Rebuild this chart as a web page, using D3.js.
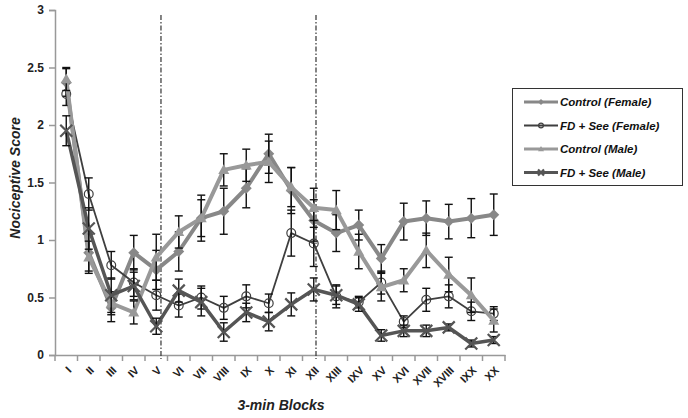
<!DOCTYPE html>
<html><head><meta charset="utf-8">
<script src="https://cdn.jsdelivr.net/npm/d3@7/dist/d3.min.js"></script>
<style>body{margin:0;background:#fff}svg{display:block}</style>
</head><body><svg id="c" width="688" height="418"></svg>
<script>
const categories = ["I","II","III","IV","V","VI","VII","VIII","IX","X","XI","XII","XIII","IXV","XV","XVI","XVII","XVIII","IXX","XX"];
const controlFemale = [2.37,0.89,0.41,0.89,0.74,0.90,1.19,1.25,1.45,1.75,1.43,1.17,1.06,1.13,0.84,1.16,1.19,1.16,1.19,1.22];
const controlFemaleErr = [0.12,0.16,0.12,0.15,0.17,0.17,0.2,0.2,0.17,0.17,0.2,0.18,0.16,0.13,0.12,0.16,0.15,0.15,0.17,0.18];
const fdFemale = [2.27,1.40,0.78,0.63,0.52,0.43,0.50,0.41,0.51,0.45,1.06,0.97,0.51,0.46,0.63,0.29,0.48,0.51,0.38,0.36];
const fdFemaleErr = [0.1,0.14,0.12,0.12,0.13,0.1,0.1,0.1,0.1,0.08,0.2,0.2,0.1,0.05,0.1,0.05,0.1,0.1,0.08,0.06];
const controlMale = [2.40,0.85,0.45,0.37,0.85,1.07,1.19,1.61,1.65,1.68,1.46,1.28,1.26,0.90,0.59,0.65,0.91,0.70,0.52,0.30];
const controlMaleErr = [0.1,0.14,0.1,0.1,0.2,0.14,0.16,0.14,0.14,0.18,0.17,0.17,0.17,0.15,0.12,0.1,0.15,0.15,0.15,0.1];
const fdMale = [1.95,1.10,0.52,0.60,0.25,0.56,0.46,0.20,0.37,0.29,0.44,0.57,0.52,0.44,0.17,0.21,0.21,0.24,0.10,0.13];
const fdMaleErr = [0.13,0.18,0.15,0.12,0.07,0.1,0.12,0.08,0.08,0.08,0.1,0.1,0.08,0.06,0.05,0.05,0.05,0.03,0.03,0.03];
const yTicks = [0,0.5,1,1.5,2,2.5,3];
const seriesNames = ["Control (Female)","FD + See (Female)","Control (Male)","FD + See (Male)"];
const dividerPositions = [4.71, 11.6]; // in band units from the left edge

const svg = d3.select("#c");
const m = {l:55, r:505, t:10, b:355};
const x = d3.scaleBand().domain(categories).range([m.l, m.r]);
const y = d3.scaleLinear().domain([0,3]).range([m.b, m.t]);
const font = "'Liberation Sans', Arial, sans-serif";

// axes
const yAx = svg.append("g").attr("transform",`translate(${m.l},0)`)
  .call(d3.axisLeft(y).tickValues(yTicks).tickFormat(d=>d).tickSize(6).tickPadding(5));
yAx.select(".domain").attr("stroke","#999").attr("stroke-width",1.5);
yAx.selectAll(".tick line").attr("stroke","#999").attr("stroke-width",1.5);
yAx.selectAll("text").attr("font-family",font).attr("font-weight","bold").attr("font-size",12).attr("fill","#222");

const xAx = svg.append("g").attr("transform",`translate(0,${m.b})`)
  .call(d3.axisBottom(x).tickSize(0).tickPadding(0));
xAx.select(".domain").attr("stroke","#999").attr("stroke-width",1.5);
xAx.selectAll(".tick text").attr("font-family",font).attr("font-weight","bold").attr("font-size",11).attr("fill","#222")
  .attr("text-anchor","end").attr("dy",0).attr("transform","translate(6,16) rotate(-45)");
// band boundary ticks
const bounds = d3.range(categories.length+1).map(i=>m.l + i*x.bandwidth());
svg.append("g").selectAll("line").data(bounds).join("line")
  .attr("x1",d=>d).attr("x2",d=>d).attr("y1",m.b).attr("y2",m.b+6)
  .attr("stroke","#999").attr("stroke-width",1.5);

// dividers
svg.append("g").selectAll("line").data(dividerPositions).join("line")
  .attr("x1",d=>m.l+d*x.bandwidth()).attr("x2",d=>m.l+d*x.bandwidth())
  .attr("y1",15).attr("y2",m.b+4)
  .attr("stroke","#333").attr("stroke-width",1.2).attr("stroke-dasharray","5,2,1.5,2");

const cx = c => x(c) + x.bandwidth()/2;
const series = [
  {name:seriesNames[0], v:controlFemale, e:controlFemaleErr, color:"#888", w:4, mark:"diamond"},
  {name:seriesNames[1], v:fdFemale, e:fdFemaleErr, color:"#3f3f3f", w:1.8, mark:"circle"},
  {name:seriesNames[2], v:controlMale, e:controlMaleErr, color:"#999", w:4, mark:"triangle"},
  {name:seriesNames[3], v:fdMale, e:fdMaleErr, color:"#555", w:3.5, mark:"x"}
];

function drawMarker(g, type, color, px, py, s){
  if(type==="diamond"){
    g.append("path").attr("d",`M${px},${py-s}L${px+s},${py}L${px},${py+s}L${px-s},${py}Z`).attr("fill",color);
  } else if(type==="circle"){
    g.append("circle").attr("cx",px).attr("cy",py).attr("r",s*0.8).attr("fill","none").attr("stroke",color).attr("stroke-width",1.2);
  } else if(type==="triangle"){
    g.append("path").attr("d",`M${px},${py-s}L${px+s},${py+s*0.75}L${px-s},${py+s*0.75}Z`).attr("fill",color);
  } else {
    g.append("path").attr("d",`M${px-s},${py-s}L${px+s},${py+s}M${px+s},${py-s}L${px-s},${py+s}`).attr("stroke",color).attr("stroke-width",2.2);
  }
}

const line = d3.line().x((d,i)=>cx(categories[i])).y(d=>y(d));
series.forEach(s=>{
  const g = svg.append("g");
  g.append("path").attr("d",line(s.v)).attr("fill","none").attr("stroke",s.color).attr("stroke-width",s.w).attr("stroke-linejoin","round");
  s.v.forEach((v,i)=>{
    const px = cx(categories[i]);
    const lo = y(v - s.e[i]), hi = y(v + s.e[i]);
    g.append("line").attr("x1",px).attr("x2",px).attr("y1",lo).attr("y2",hi).attr("stroke","#111").attr("stroke-width",1.4);
    [lo,hi].forEach(yy=>g.append("line").attr("x1",px-4).attr("x2",px+4).attr("y1",yy).attr("y2",yy).attr("stroke","#111").attr("stroke-width",1.4));
  });
  s.v.forEach((v,i)=>drawMarker(g, s.mark, s.color, cx(categories[i]), y(v), s.mark==="x"?6:5.5));
});

// axis titles
svg.append("text").attr("x",281).attr("y",410).attr("text-anchor","middle")
  .attr("font-family",font).attr("font-weight","bold").attr("font-style","italic").attr("font-size",14).attr("fill","#222").text("3-min Blocks");
svg.append("text").attr("transform","translate(20,178) rotate(-90)").attr("text-anchor","middle")
  .attr("font-family",font).attr("font-weight","bold").attr("font-style","italic").attr("font-size",14).attr("fill","#222").text("Nociceptive Score");

// legend
const lg = svg.append("g");
lg.append("rect").attr("x",512.5).attr("y",88.5).attr("width",170).attr("height",97).attr("fill","#fff").attr("stroke","#333").attr("stroke-width",1);
series.forEach((s,i)=>{
  const ly = 102 + i*23.5;
  lg.append("line").attr("x1",524).attr("x2",558).attr("y1",ly).attr("y2",ly).attr("stroke",s.color).attr("stroke-width",Math.min(s.w,3));
  drawMarker(lg, s.mark, s.color, 541, ly, 3);
  lg.append("text").attr("x",560).attr("y",ly+4).attr("font-family",font).attr("font-weight","bold").attr("font-style","italic").attr("font-size",11.5).attr("fill","#111").text(s.name);
});
</script></body></html>
